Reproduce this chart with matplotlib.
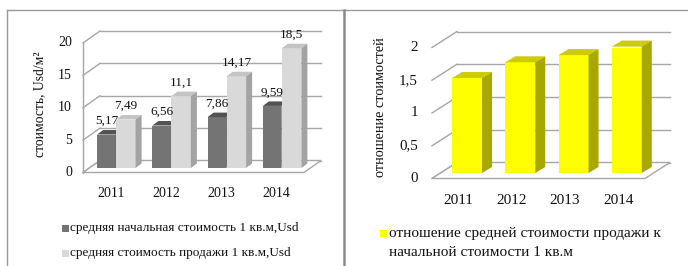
import matplotlib
matplotlib.use('Agg')
import matplotlib.pyplot as plt
from matplotlib.patches import Polygon
from matplotlib.lines import Line2D

# ---------------- data ----------------
years = ['2011', '2012', '2013', '2014']
start_cost = [5.17, 6.56, 7.86, 9.59]
sale_cost = [7.49, 11.1, 14.17, 18.5]
ratio = [1.45, 1.69, 1.80, 1.93]
left_ticks = [0, 5, 10, 15, 20]
left_tick_labels = ['0', '5', '10', '15', '20']
right_ticks = [0, 0.5, 1, 1.5, 2]
right_tick_labels = ['0', '0,5', '1', '1,5', '2']
left_ylabel = 'стоимость, Usd/м²'
right_ylabel = 'отношение стоимостей'
left_legend = ['средняя начальная стоимость 1 кв.м,Usd',
               'средняя стоимость продажи 1 кв.м,Usd']
right_legend = ['отношение средней стоимости продажи к',
                'начальной стоимости 1 кв.м']

W, H = 688, 266
DPI = 100
plt.rcParams['font.family'] = ['Liberation Serif', 'DejaVu Serif']

fig = plt.figure(figsize=(W / DPI, H / DPI), dpi=DPI)
fig.patch.set_facecolor('white')

GRID = '#a6a6a6'
FRAME = '#9a9a9a'
TXT = '#111111'


def fx(px):
    return px / W


def fy(py):
    return 1 - py / H


# frame lines
fig.add_artist(Line2D([fx(7), fx(688)], [fy(10), fy(10)], color=FRAME, lw=1.0))
fig.add_artist(Line2D([fx(7), fx(7)], [fy(10), fy(266)], color=FRAME, lw=1.0))
fig.add_artist(Line2D([fx(344.5), fx(344.5)], [fy(10), fy(266)], color='#8a8a8a', lw=1.8))


def make_ax(x0, x1, yb, yt, ymax):
    ax = fig.add_axes([fx(x0), fy(yb), (x1 - x0) / W, (yb - yt) / H])
    ax.set_xlim(-0.5, 3.5)
    ax.set_ylim(0, ymax)
    ax.axis('off')
    ux = (x1 - x0) / 4.0
    uy = (yb - yt) / ymax
    return ax, ux, uy


def draw_frame(ax, ux, uy, ticks, labels, depth, lab_pad, year_pad, draw_vline,
               tick_fs, year_fs):
    ddx = depth[0] / ux
    ddy = depth[1] / uy
    floor = Polygon([(-0.5, 0), (3.5, 0), (3.5 + ddx, ddy), (-0.5 + ddx, ddy)],
                    closed=True, fc='white', ec=GRID, lw=1.0, zorder=1, clip_on=False)
    ax.add_patch(floor)
    for t, lab in zip(ticks, labels):
        ax.plot([-0.5 + ddx, 3.5 + ddx], [t + ddy, t + ddy], color=GRID, lw=1.0,
                zorder=0.5, clip_on=False)
        ax.plot([-0.5, -0.5 + ddx], [t, t + ddy], color=GRID, lw=1.0,
                zorder=0.5, clip_on=False)
        ax.text(-0.5 - lab_pad / ux, t, lab, ha='right', va='center',
                fontsize=tick_fs, color=TXT)
    if draw_vline:
        ax.plot([-0.5, -0.5], [0, ticks[-1]], color=GRID, lw=1.0, zorder=0.5,
                clip_on=False)
    for i, y in enumerate(years):
        ax.text(i, -year_pad / uy, y, ha='center', va='center', fontsize=year_fs,
                color=TXT)


def draw_bars(ax, ux, uy, values, offset_px, width_px, shift, bdepth, colors,
              labels=False, label_gap=13.5):
    front, top, side = colors
    w = width_px / ux
    bx = bdepth[0] / ux
    by = bdepth[1] / uy
    base = shift[1] / uy
    pos = [i + (offset_px + shift[0]) / ux for i in range(len(values))]
    bars = ax.bar(pos, values, width=w, bottom=base, color=front, lw=0, zorder=3)
    for rect, v in zip(bars, values):
        x0 = rect.get_x()
        x1 = x0 + rect.get_width()
        y0 = rect.get_y()
        y1 = y0 + rect.get_height()
        ax.add_patch(Polygon([(x0, y1), (x1, y1), (x1 + bx, y1 + by), (x0 + bx, y1 + by)],
                             closed=True, fc=top, lw=0, zorder=3, clip_on=False))
        ax.add_patch(Polygon([(x1, y0), (x1 + bx, y0 + by), (x1 + bx, y1 + by), (x1, y1)],
                             closed=True, fc=side, lw=0, zorder=3, clip_on=False))
        if labels:
            ax.text((x0 + x1) / 2, y1 + label_gap / uy, str(v).replace('.', ','),
                    ha='center', va='center', fontsize=9.5, color=TXT,
                    zorder=5, clip_on=False)


# ---------------- left chart ----------------
axL, uxL, uyL = make_ax(83, 304, 172.5, 43, 20)
draw_frame(axL, uxL, uyL, left_ticks, left_tick_labels, (17, 12), 11, 21, True, 10, 10)
DARK = ('#747474', '#525252', '#626262')
LIGHT = ('#d9d9d9', '#c4c4c4', '#a3a3a3')
draw_bars(axL, uxL, uyL, start_cost, -9.75, 18.5, (5.5, 4.5), (6, 4.5), DARK, labels=True)
draw_bars(axL, uxL, uyL, sale_cost, 9.75, 19.5, (5.5, 4.5), (6, 4.5), LIGHT, labels=True)

fig.text(fx(40), fy(104), left_ylabel, rotation=90, ha='center', va='center',
         fontsize=9.8, color=TXT)

for k, (txt, col) in enumerate(zip(left_legend, [DARK[0], LIGHT[0]])):
    yy = 228 + k * 25
    fig.patches.append(plt.Rectangle((fx(61.5), fy(yy + 3.5)), 7 / W, 7 / H,
                                     transform=fig.transFigure, fc=col, ec='none'))
    fig.text(fx(70), fy(yy), txt, ha='left', va='center', fontsize=9.5, color=TXT)

# ---------------- right chart ----------------
axR, uxR, uyR = make_ax(432, 645, 178.5, 47.5, 2)
draw_frame(axR, uxR, uyR, right_ticks, right_tick_labels, (25, 16), 14, 21.5, False,
           10.8, 11)
YEL = ('#ffff00', '#cccc00', '#a8a800')
draw_bars(axR, uxR, uyR, ratio, 0, 30, (8.4, 5.5), (10, 6), YEL)

fig.text(fx(380), fy(107), right_ylabel, rotation=90, ha='center', va='center',
         fontsize=10.3, color=TXT)

fig.patches.append(plt.Rectangle((fx(379.5), fy(236.5)), 7 / W, 7 / H,
                                 transform=fig.transFigure, fc=YEL[0], ec='none'))
fig.text(fx(389.5), fy(233), right_legend[0], ha='left', va='center', fontsize=11,
         color=TXT)
fig.text(fx(389.5), fy(253), right_legend[1], ha='left', va='center', fontsize=11,
         color=TXT)

fig.savefig('out.png', dpi=DPI, facecolor='white')
